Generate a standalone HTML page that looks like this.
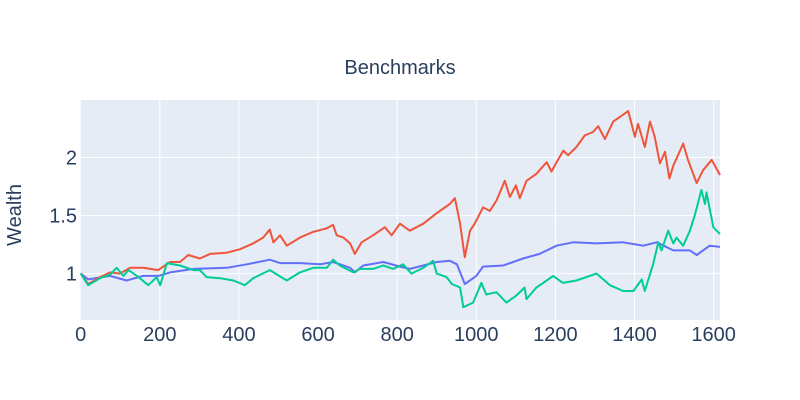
<!DOCTYPE html>
<html><head><meta charset="utf-8"><style>
body{margin:0;background:#fff;}
svg{display:block;font-family:"Liberation Sans",sans-serif;}
</style></head><body>
<svg id="chart" width="800" height="400">
<rect x="80.7" y="100" width="639.3" height="220" fill="#e5ecf6"/>
<g id="grid"></g><g id="lines"></g><g id="ticks"></g>
<text x="400" y="74" text-anchor="middle" font-size="20" fill="#2a3f5f">Benchmarks</text>
<text transform="translate(21,215) rotate(-90)" text-anchor="middle" font-size="20" fill="#2a3f5f">Wealth</text>
</svg>
<script>
const xTicks=[0,200,400,600,800,1000,1200,1400,1600];
const yTicks=[1,1.5,2];
const yTickLabels=["1","1.5","2"];
const blueX=[0,19,74,116,158,196,226,285,369,420,478,504,554,605,638,681,693,714,765,807,832,866,900,933,951,971,1000,1017,1068,1118,1160,1203,1245,1304,1371,1422,1456,1498,1540,1557,1590,1616];
const blueY=[1,0.95,0.98,0.94,0.98,0.98,1.01,1.04,1.05,1.08,1.12,1.09,1.09,1.08,1.10,1.05,1.01,1.07,1.10,1.06,1.04,1.07,1.10,1.11,1.08,0.91,0.98,1.06,1.07,1.13,1.17,1.24,1.27,1.26,1.27,1.24,1.27,1.20,1.20,1.16,1.24,1.23];
const redX=[0,19,49,74,99,125,158,196,226,251,272,301,327,369,403,436,461,478,487,504,521,554,588,622,638,647,664,681,693,710,739,769,786,807,832,866,900,933,946,959,971,984,996,1017,1034,1051,1072,1085,1100,1110,1127,1152,1178,1190,1203,1220,1232,1253,1274,1295,1308,1325,1346,1363,1384,1401,1409,1426,1439,1451,1464,1477,1488,1498,1523,1535,1557,1573,1595,1616];
const redY=[1,0.91,0.97,1.01,1.00,1.05,1.05,1.03,1.10,1.10,1.16,1.13,1.17,1.18,1.21,1.26,1.31,1.38,1.27,1.33,1.24,1.31,1.36,1.39,1.42,1.33,1.31,1.26,1.17,1.27,1.33,1.40,1.33,1.43,1.37,1.43,1.52,1.60,1.65,1.43,1.14,1.37,1.43,1.57,1.54,1.63,1.80,1.66,1.76,1.65,1.80,1.86,1.96,1.88,1.96,2.06,2.02,2.09,2.19,2.22,2.27,2.16,2.31,2.35,2.40,2.18,2.29,2.09,2.31,2.18,1.95,2.05,1.82,1.93,2.12,1.98,1.78,1.89,1.98,1.85];
const greenX=[0,19,49,74,91,108,121,142,171,192,201,218,251,285,301,318,352,386,415,436,478,521,554,588,622,638,655,689,706,739,765,790,815,836,866,891,900,925,938,959,967,992,1013,1025,1051,1076,1101,1122,1127,1152,1169,1194,1219,1253,1304,1338,1371,1397,1418,1426,1447,1460,1468,1485,1498,1506,1523,1540,1552,1569,1578,1582,1599,1616];
const greenY=[1,0.90,0.96,0.99,1.05,0.98,1.03,0.98,0.90,0.97,0.90,1.09,1.07,1.03,1.03,0.97,0.96,0.94,0.90,0.96,1.03,0.94,1.01,1.05,1.05,1.12,1.07,1.01,1.04,1.04,1.07,1.04,1.08,1.00,1.05,1.11,1.00,0.97,0.91,0.88,0.71,0.75,0.92,0.82,0.84,0.75,0.81,0.88,0.78,0.88,0.92,0.98,0.92,0.94,1.00,0.90,0.85,0.85,0.95,0.85,1.08,1.27,1.20,1.37,1.26,1.31,1.24,1.37,1.50,1.72,1.60,1.70,1.40,1.34];
const NS="http://www.w3.org/2000/svg";
const X0=80.7,X1=720,XMAX=1616,Y0=320,Y1=100,YMIN=0.6,YMAX=2.496;
function sx(v){return X0+(v/XMAX)*(X1-X0);}
function sy(v){return Y0-(v-YMIN)/(YMAX-YMIN)*(Y0-Y1);}
const grid=document.getElementById('grid'),ticks=document.getElementById('ticks'),lines=document.getElementById('lines');
xTicks.forEach(t=>{
  if(t>0){const l=document.createElementNS(NS,'line');
  l.setAttribute('x1',sx(t));l.setAttribute('x2',sx(t));l.setAttribute('y1',Y1);l.setAttribute('y2',Y0);
  l.setAttribute('stroke','#fff');l.setAttribute('stroke-width','1');
  
  
  grid.appendChild(l);}
  const tx=document.createElementNS(NS,'text');
  tx.setAttribute('x',sx(t));tx.setAttribute('y',341);tx.setAttribute('text-anchor','middle');
  tx.setAttribute('font-size','20');tx.setAttribute('fill','#2a3f5f');tx.textContent=t;
  
  
  ticks.appendChild(tx);
});
yTicks.forEach((t,i)=>{
  const l=document.createElementNS(NS,'line');
  l.setAttribute('x1',X0);l.setAttribute('x2',X1);l.setAttribute('y1',sy(t));l.setAttribute('y2',sy(t));
  l.setAttribute('stroke','#fff');l.setAttribute('stroke-width','1');
  
  
  grid.appendChild(l);
  const tx=document.createElementNS(NS,'text');
  tx.setAttribute('x',77);tx.setAttribute('y',sy(t)+7);tx.setAttribute('text-anchor','end');
  tx.setAttribute('font-size','20');tx.setAttribute('fill','#2a3f5f');tx.textContent=yTickLabels[i];
  
  
  ticks.appendChild(tx);
});
function draw(xs,ys,color,name){
  const p=document.createElementNS(NS,'polyline');
  p.setAttribute('points',xs.map((x,i)=>sx(x).toFixed(1)+','+sy(ys[i]).toFixed(1)).join(' '));
  p.setAttribute('fill','none');p.setAttribute('stroke',color);p.setAttribute('stroke-width','2');
  p.setAttribute('stroke-linejoin','round');
  
  
  lines.appendChild(p);
}
draw(blueX,blueY,'#636efa','series-blue-line');
draw(redX,redY,'#EF553B','series-red-line');
draw(greenX,greenY,'#00cc96','series-green-line');
</script>
</body></html>
